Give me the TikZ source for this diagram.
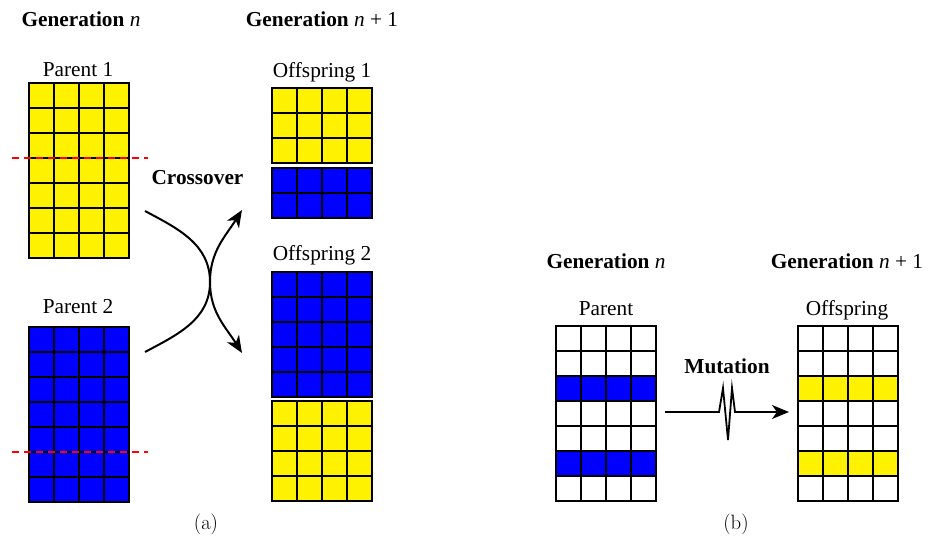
\documentclass[tikz,border=0pt]{standalone}
\usepackage{fontspec}
\setmainfont{Liberation Serif}
\usetikzlibrary{arrows.meta}
\definecolor{gyel}{RGB}{255,242,0}
\definecolor{gblu}{RGB}{0,0,255}
\definecolor{gred}{RGB}{255,0,0}
\newcommand\chromgrid[4]{%
  \begin{scope}[shift={(#1,#2)}]
    \foreach \c [count=\i from 0] in {#4} {
      \foreach \j in {0,...,3} \draw[cell, fill=\c] (\j*25,\i*25) rectangle ++(25,25);
    }
  \end{scope}
  \node[gridbox, anchor=north west] (#3) at (#1,#2) {};
}
\begin{document}
\begin{tikzpicture}[x=1pt,y=-1pt,
  cell/.style={draw=black, line width=1.5pt},
  gridbox/.style={inner sep=0pt, outer sep=0pt},
  lab/.style={font=\fontsize{21.3}{25}\selectfont, anchor=base, inner sep=0pt},
  cut/.style={gred, line width=2.4pt, dash pattern=on 7pt off 5pt},
  tip/.style={-{Stealth[length=17pt,width=14pt,inset=5pt]}},
  conn/.style={line width=2pt, tip},
  subcap/.style={font=\fontsize{21}{25}\usefont{OT1}{cmr}{m}{n}, inner sep=0pt}
]
\useasboundingbox (0,0) rectangle (929,540);

% (a) crossover
\chromgrid{29}{83}{par1}{gyel,gyel,gyel,gyel,gyel,gyel,gyel}
\chromgrid{29}{327}{par2}{gblu,gblu,gblu,gblu,gblu,gblu,gblu}
\chromgrid{272}{88}{off1a}{gyel,gyel,gyel}
\chromgrid{272}{168}{off1b}{gblu,gblu}
\chromgrid{272}{272}{off2a}{gblu,gblu,gblu,gblu,gblu}
\chromgrid{272}{401}{off2b}{gyel,gyel,gyel,gyel}

\coordinate (cut1a) at (12,158); \coordinate (cut1b) at (148,158);
\coordinate (cut2a) at (12,452); \coordinate (cut2b) at (148,452);
\draw[cut] (cut1a) -- (cut1b);
\draw[cut] (cut2a) -- (cut2b);

\node[lab] (g1) at (81,27) {{\bfseries Generation} \textit{n}};
\node[lab] (g2) at (322,27) {{\bfseries Generation} \textit{n} + 1};
\node[lab] (lp1) at (78,77) {Parent 1};
\node[lab] (lp2) at (78,313) {Parent 2};
\node[lab] (lo1) at (322,78) {Offspring 1};
\node[lab] (lo2) at (322,260) {Offspring 2};
\node[lab] (lx) at (197.5,185) {\bfseries Crossover};

\coordinate (aS) at (145,211);
\coordinate (aM) at (210,282);
\coordinate (aE) at (242,353);
\coordinate (bS) at (145,352);
\coordinate (bE) at (242,210);
\draw[conn] (aS) to[out=-28,in=90] (aM) to[out=-90,in=122] (aE);
\draw[conn] (bS) to[out=28,in=-90] (aM) to[out=90,in=-122] (bE);

\node[subcap] (ca) at (206,524) {(a)};

% (b) mutation
\chromgrid{556}{326}{mp}{white,white,gblu,white,white,gblu,white}
\chromgrid{798}{326}{mo}{white,white,gyel,white,white,gyel,white}

\node[lab] (g3) at (606,269) {{\bfseries Generation} \textit{n}};
\node[lab] (g4) at (847,269) {{\bfseries Generation} \textit{n} + 1};
\node[lab] (lmp) at (606,315) {Parent};
\node[lab] (lmo) at (847,315) {Offspring};
\node[lab] (lm) at (727,373) {\bfseries Mutation};

\coordinate (mS) at (665,412);
\coordinate (mE) at (789,412);
\draw[line width=1.8pt, tip, line join=miter]
  (mS) -- (719,412) -- (723,388) -- (728,440) -- (732,388) -- (735,412) -- (mE);

\node[subcap] (cb) at (736,524) {(b)};
\end{tikzpicture}
\end{document}
